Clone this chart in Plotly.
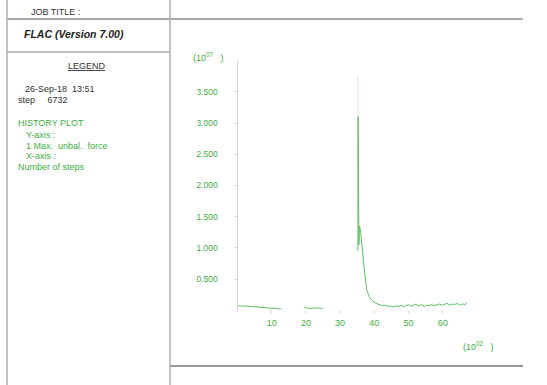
import plotly.graph_objects as go

W, H = 547, 385

# ---------------- data (x in 10^2 steps, y in 10^7) ----------------
steps_a = [0.3, 2.0, 3.5, 4.5, 6.0, 8.0, 10.0, 11.5, 12.8]
force_a = [0.07, 0.07, 0.07, 0.06, 0.05, 0.04, 0.035, 0.03, 0.02]

steps_b = [19.5, 19.8, 20.5, 21.5, 22.5, 23.5, 24.3, 25.0]
force_b = [0.03, 0.05, 0.03, 0.035, 0.03, 0.035, 0.03, 0.03]

steps_c = [35.2, 35.25, 35.3, 35.4, 35.5, 35.7, 36.0, 36.4, 36.8, 37.3, 37.8, 38.3,
           38.7, 39.3, 40.2, 41.0, 41.7, 42.5, 43.3, 44.0, 44.8, 45.5, 46.3, 47.0,
           47.8, 48.5, 49.2, 50.0, 50.8, 51.5, 52.2, 53.0, 53.8, 54.5, 55.3, 56.0,
           56.8, 57.5, 58.3, 59.0, 59.8, 60.5, 61.3, 62.0, 62.8, 63.5, 64.3, 65.0,
           65.8, 66.5, 67.1]
force_c = [0.95, 3.10, 1.00, 1.90, 1.05, 1.35, 1.25, 1.00, 0.81, 0.54, 0.32, 0.25,
           0.20, 0.16, 0.12, 0.10, 0.09, 0.07, 0.08, 0.06, 0.07, 0.05, 0.07, 0.06,
           0.08, 0.06, 0.07, 0.09, 0.06, 0.08, 0.10, 0.07, 0.09, 0.06, 0.08, 0.07,
           0.09, 0.07, 0.08, 0.10, 0.08, 0.09, 0.11, 0.08, 0.10, 0.09, 0.11, 0.08,
           0.10, 0.09, 0.12]

overshoot_steps = [35.25, 35.25]
overshoot_force = [3.10, 3.75]

y_tickvals = [0.5, 1.0, 1.5, 2.0, 2.5, 3.0, 3.5]
y_ticktext = ["0.500", "1.000", "1.500", "2.000", "2.500", "3.000", "3.500"]
x_tickvals = [10, 20, 30, 40, 50, 60]
x_ticktext = ["10", "20", "30", "40", "50", "60"]

GREEN_TXT = "#3fae3f"
GREEN_LINE = "#5fbf5f"
FONT = "Liberation Sans, Arial, sans-serif"

def px(x):
    return x / W

def py(y):
    return 1 - y / H

fig = go.Figure()
for xs, ys in [(steps_a, force_a), (steps_b, force_b), (steps_c, force_c)]:
    fig.add_trace(go.Scatter(x=xs, y=ys, mode="lines",
                             line=dict(color=GREEN_LINE, width=1), hoverinfo="skip"))
fig.add_trace(go.Scatter(x=overshoot_steps, y=overshoot_force, mode="lines",
                         line=dict(color="rgba(180,215,180,0.6)", width=1), hoverinfo="skip"))

fig.update_layout(
    width=W, height=H, margin=dict(l=0, r=0, t=0, b=0),
    paper_bgcolor="white", plot_bgcolor="white", showlegend=False,
    font=dict(family=FONT, size=9, color=GREEN_TXT),
    xaxis=dict(domain=[px(237.5), px(468)], range=[0, 67.4],
               showgrid=False, zeroline=False, showline=False,
               tickvals=x_tickvals, ticktext=x_ticktext,
               ticks="outside", ticklen=2, tickcolor="#bcdcbc",
               tickfont=dict(family=FONT, size=9, color=GREEN_TXT),
               ticklabelstandoff=2),
    yaxis=dict(domain=[py(310.2), py(60.6)], range=[0, 4.0],
               showgrid=False, zeroline=False, showline=True,
               linecolor="#d6d6d6", linewidth=1,
               tickvals=y_tickvals, ticktext=y_ticktext,
               ticks="outside", ticklen=2, tickcolor="#d0d0d0",
               tickfont=dict(family=FONT, size=8.5, color=GREEN_TXT),
               ticklabelstandoff=15),
)

# frame lines
frame = [
    (7, 0, 7, H, "#b0b0b0", 1.5),
    (7, 19, 523, 19, "#a8a8a8", 1.8),
    (7, 52, 170, 52, "#a8a8a8", 1.5),
    (170, 0, 170, H, "#b0b0b0", 1.5),
    (170, 366, 523, 366, "#9a9a9a", 2),
]
for x0, y0, x1, y1, c, w in frame:
    fig.add_shape(type="line", xref="paper", yref="paper",
                  x0=px(x0), y0=py(y0), x1=px(x1), y1=py(y1),
                  line=dict(color=c, width=w))

def txt(x, y, s, color="#333333", size=9, anchor="left"):
    fig.add_annotation(xref="paper", yref="paper", x=px(x), y=py(y), text=s,
                       showarrow=False, xanchor=anchor, yanchor="middle",
                       font=dict(family=FONT, size=size, color=color))

txt(29, 12, "JOB TITLE :", size=9)
txt(22, 34, "<b><i>FLAC (Version 7.00)</i></b>", size=10.5, color="#222222")
txt(87, 66, "<u>LEGEND</u>", size=9, anchor="center")
txt(23, 89, "26-Sep-18  13:51", size=9)
txt(16, 100, "step     6732", size=9)
txt(16, 123, "HISTORY PLOT", color=GREEN_TXT)
txt(24, 135, "Y-axis :", color=GREEN_TXT)
txt(24, 146, "1 Max.  unbal.  force", color=GREEN_TXT)
txt(24, 156, "X-axis :", color=GREEN_TXT)
txt(16, 167, "Number of steps", color=GREEN_TXT)

txt(191, 57, "(10<sup>07</sup>   )", color=GREEN_TXT)
txt(461, 346, "(10<sup>02</sup>   )", color=GREEN_TXT)

fig.write_html("out.html", config={"displayModeBar": False},
               post_script="document.body.style.margin='0';document.body.style.overflow='hidden';")
